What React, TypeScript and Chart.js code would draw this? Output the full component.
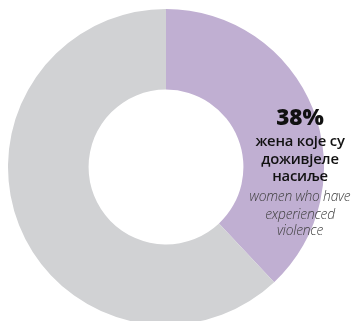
import React, { useEffect, useRef } from "react";
import { Chart, registerables } from "chart.js";

Chart.register(...registerables);

const categories = ["жена које су доживјеле насиље", "остале"];
const values = [38, 62];
const sliceColors = ["#c0afd2", "#d1d2d4"];

const percentLabel = "38%";
const localLines = ["жена које су", "доживјеле", "насиље"];
const englishLines = ["women who have", "experienced", "violence"];

const FONT = "'Open Sans', 'Noto Sans', sans-serif";

function Line(props: {
  text: string;
  baseline: number;
  size: number;
  weight: number;
  italic?: boolean;
  color: string;
  spacing?: number;
}) {
  const L = Math.round(props.size * 1.4);
  const top = props.baseline - L / 2 - 0.388 * props.size;
  return (
    <div
      style={{
        position: "absolute",
        left: 230,
        width: 140,
        top,
        height: L,
        lineHeight: L + "px",
        fontSize: props.size,
        fontWeight: props.weight,
        fontStyle: props.italic ? "italic" : "normal",
        fontFamily: FONT,
        color: props.color,
        textAlign: "center",
        whiteSpace: "nowrap",
        letterSpacing: props.spacing ?? 0,
      }}
    >
      {props.text}
    </div>
  );
}

export default function App() {
  const ref = useRef<HTMLCanvasElement | null>(null);

  useEffect(() => {
    if (!ref.current) return;
    const chart = new Chart(ref.current, {
      type: "doughnut",
      data: {
        labels: categories,
        datasets: [
          {
            data: values,
            backgroundColor: sliceColors,
            borderWidth: 0,
            hoverOffset: 0,
          },
        ],
      },
      options: {
        responsive: false,
        animation: false,
        cutout: "49%",
        layout: { padding: 0 },
        plugins: {
          legend: { display: false },
          tooltip: { enabled: false },
        },
      },
    });
    return () => chart.destroy();
  }, []);

  const localBaselines = [146.5, 164.5, 181];
  const engBaselines = [201, 219, 235];

  return (
    <div
      style={{
        position: "fixed",
        left: 0,
        top: 0,
        width: 356,
        height: 321,
        overflow: "hidden",
        background: "#ffffff",
      }}
    >
      <canvas
        ref={ref}
        width={316}
        height={316}
        style={{ position: "absolute", left: 8, top: 9, width: 316, height: 316 }}
      />
      <Line text={percentLabel} baseline={125} size={22.5} weight={800} color="#111111" />
      {localLines.map((t, i) => (
        <Line key={t} text={t} baseline={localBaselines[i]} size={14.8} weight={600} color="#111111" spacing={-0.2} />
      ))}
      {englishLines.map((t, i) => (
        <Line key={t} text={t} baseline={engBaselines[i]} size={13.8} weight={300} italic color="#404040" spacing={-0.2} />
      ))}
    </div>
  );
}
